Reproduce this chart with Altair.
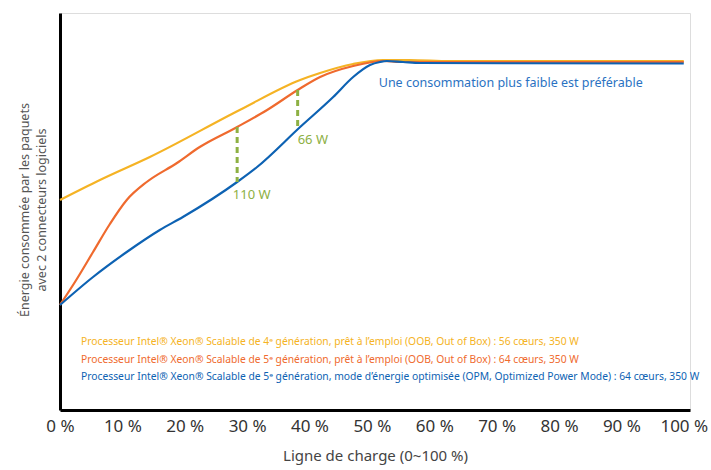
import altair as alt
import pandas as pd

FONT = "Noto Sans"

series_names = [
    "Processeur Intel® Xeon® Scalable de 4ᵉ génération, prêt à l’emploi (OOB, Out of Box) : 56 cœurs, 350 W",
    "Processeur Intel® Xeon® Scalable de 5ᵉ génération, prêt à l’emploi (OOB, Out of Box) : 64 cœurs, 350 W",
    "Processeur Intel® Xeon® Scalable de 5ᵉ génération, mode d’énergie optimisée (OPM, Optimized Power Mode) : 64 cœurs, 350 W",
]
colors = ["#f5b324", "#ef6a2e", "#0d62b3"]

# load (%) and relative package power (arbitrary units)
gen4_oob_x = [0, 6.4, 14.4, 28.8, 38.5, 41.7, 47.0, 51.8, 56.0, 62.5, 100]
gen4_oob_y = [210, 230, 253, 300, 330, 337, 346, 350, 350, 349, 349]

gen5_oob_x = [0, 2.7, 5.3, 8.0, 10.7, 13.9, 18.75, 22.4, 28.4, 33.2, 38.1, 41.7, 47.0, 51.8, 54.5, 100]
gen5_oob_y = [105, 131, 158, 186, 210, 228, 247, 263, 283, 300, 320, 333, 344, 349, 348, 348]

gen5_opm_x = [0, 5.3, 10.7, 16.0, 19.7, 28.4, 31.6, 38.5, 43.8, 47.0, 49.7, 51.3, 52.4, 55.0, 57.7, 100]
gen5_opm_y = [105, 133, 158, 180, 193, 228, 243, 283, 313, 333, 345, 348, 349, 348, 347, 346.5]

gap_x = [28.4, 38.1]
gap_top = [283, 320]
gap_bottom = [228, 282]
gap_labels = ["110 W", "66 W"]
gap_label_x = [27.7, 38.1]
gap_label_y = [215, 270]

note_text = "Une consommation plus faible est préférable"
note_x = [51.1]
note_y = [327]

x_ticks = [0, 10, 20, 30, 40, 50, 60, 70, 80, 90, 100]
x_title = "Ligne de charge (0~100 %)"
y_title = ["Énergie consommée par les paquets", "avec 2 connecteurs logiciels"]

frames = []
for name, xs, ys in zip(series_names,
                        [gen4_oob_x, gen5_oob_x, gen5_opm_x],
                        [gen4_oob_y, gen5_oob_y, gen5_opm_y]):
    frames.append(pd.DataFrame({"load": xs, "power": ys, "series": name}))
lines_df = pd.concat(frames, ignore_index=True)

x_scale = alt.Scale(domain=[0, 101], nice=False, zero=False)
y_scale = alt.Scale(domain=[0, 397], nice=False, zero=False)
color_scale = alt.Scale(domain=series_names, range=colors)

x_enc = alt.X("load:Q", scale=x_scale,
              axis=alt.Axis(values=x_ticks, labelExpr="datum.value + ' %'", ticks=False, grid=False,
                            domainColor="#000000", domainWidth=3, labelFontSize=17, labelColor="#333333",
                            labelPadding=8, labelFont=FONT, labelFlush=False, labelOverlap=False,
                            title=x_title, titleFontSize=15, titleFontWeight="normal", titleColor="#444444",
                            titleFont=FONT, titlePadding=14))
y_enc = alt.Y("power:Q", scale=y_scale,
              axis=alt.Axis(labels=False, ticks=False, grid=False, title=None,
                            domainColor="#000000", domainWidth=3))

layers = []
for name in series_names:
    layers.append(
        alt.Chart(lines_df).transform_filter(alt.datum.series == name)
        .mark_line(interpolate="monotone", strokeWidth=2.2)
        .encode(x=x_enc, y=y_enc, color=alt.Color("series:N", scale=color_scale, legend=None))
    )

gap_df = pd.DataFrame({"load": gap_x, "top": gap_top, "bottom": gap_bottom})
gaps = alt.Chart(gap_df).mark_rule(color="#8db043", strokeWidth=3, strokeDash=[6, 4]).encode(
    x=alt.X("load:Q", scale=x_scale), y=alt.Y("top:Q", scale=y_scale), y2="bottom:Q")

gap_lbl_df = pd.DataFrame({"load": gap_label_x, "power": gap_label_y, "txt": gap_labels})
gap_lbls = alt.Chart(gap_lbl_df).mark_text(align="left", baseline="middle", fontSize=13,
                                           color="#8db043", font=FONT).encode(
    x=alt.X("load:Q", scale=x_scale), y=alt.Y("power:Q", scale=y_scale), text="txt:N")

note_df = pd.DataFrame({"load": note_x, "power": note_y, "txt": [note_text]})
note = alt.Chart(note_df).mark_text(align="left", baseline="middle", fontSize=12.5,
                                    color="#2a72c2", font=FONT).encode(
    x=alt.X("load:Q", scale=x_scale), y=alt.Y("power:Q", scale=y_scale), text="txt:N")

one = pd.DataFrame({"a": [0]})
ytitle = alt.Chart(one).mark_text(angle=270, align="center", baseline="middle", fontSize=12.5,
                                  lineHeight=17, color="#555555", font=FONT).encode(
    x=alt.value(-35), y=alt.value(197), text=alt.value(y_title))

legend_layers = []
for i, (name, col) in enumerate(zip(series_names, colors)):
    legend_layers.append(
        alt.Chart(one).mark_text(align="left", baseline="middle", fontSize=10.3, color=col, font=FONT)
        .encode(x=alt.value(21), y=alt.value(329 + i * 17.5), text=alt.value(name))
    )

chart = alt.layer(*layers, gaps, gap_lbls, note, ytitle, *legend_layers).properties(
    width=630, height=397,
    autosize=alt.AutoSizeParams(type="none"),
    padding={"left": 60, "top": 13, "right": 21, "bottom": 60},
).configure_view(stroke=None).configure(background="white")

chart.save("out.html", embed_options={"renderer": "svg", "actions": False})
